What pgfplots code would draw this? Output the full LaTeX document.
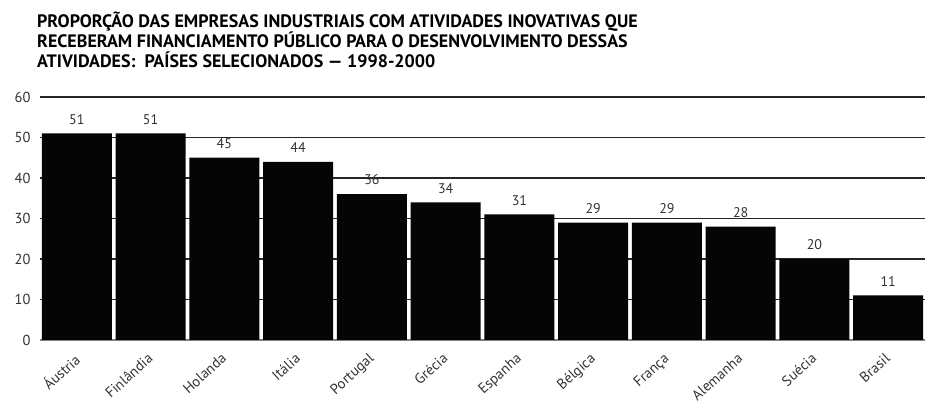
\documentclass[border=0pt]{standalone}
\usepackage{pgfplots}
\pgfplotsset{compat=1.18}
\usepackage{fontspec}
\setmainfont{PT Sans}
\definecolor{txt}{HTML}{333333}
\begin{document}
\begin{tikzpicture}[x=1pt,y=1pt]
\begin{axis}[
  at={(0,0)}, anchor=south west,
  scale only axis,
  width=885pt, height=243pt,
  xmin=-0.5, xmax=11.5,
  ymin=0, ymax=60,
  ytick={10,20,...,60},
  extra y ticks={0},
  extra y tick style={grid style={draw=black!50, line width=1.3pt}},
  xtick={0,...,11},
  xticklabels={Áustria,Finlândia,Holanda,Itália,Portugal,Grécia,Espanha,Bélgica,França,Alemanha,Suécia,Brasil},
  x tick label style={xshift=-4pt, yshift=-12pt, rotate=42, anchor=north east, inner sep=0pt, font=\fontsize{14.5}{16}\selectfont, text=txt},
  y tick label style={font=\fontsize{14.5}{16}\selectfont, text=txt, xshift=-6pt},
  /pgf/number format/assume math mode=true,
  axis line style={draw=none},
  major tick length=0pt,
  ymajorgrids,
  grid style={draw=black!85, line width=1.3pt},
  ybar, bar width=0.95, bar shift=0pt,
  nodes near coords,
  every node near coord/.append style={font=\fontsize{14}{16}\selectfont, text=txt, yshift=5.5pt},
  clip=false,
]
\addplot[fill=black!98, draw=none] coordinates {
 (0,51) (1,51) (2,45) (3,44) (4,36) (5,34) (6,31) (7,29) (8,29) (9,28) (10,20) (11,11)};
\end{axis}
\node[anchor=base west, inner sep=0pt, font=\bfseries\fontsize{18}{20}\selectfont] at (-3,312)
 {PROPORÇÃO DAS EMPRESAS INDUSTRIAIS COM ATIVIDADES INOVATIVAS QUE};
\node[anchor=base west, inner sep=0pt, font=\bfseries\fontsize{18}{20}\selectfont] at (-3,292)
 {RECEBERAM FINANCIAMENTO PÚBLICO PARA O DESENVOLVIMENTO DESSAS};
\node[anchor=base west, inner sep=0pt, font=\bfseries\fontsize{18}{20}\selectfont] at (-3,272)
 {ATIVIDADES:\ \ PAÍSES SELECIONADOS — 1998-2000};
\pgfresetboundingbox
\path[use as bounding box] (-40,-63) rectangle (885,340);
\end{tikzpicture}
\end{document}
